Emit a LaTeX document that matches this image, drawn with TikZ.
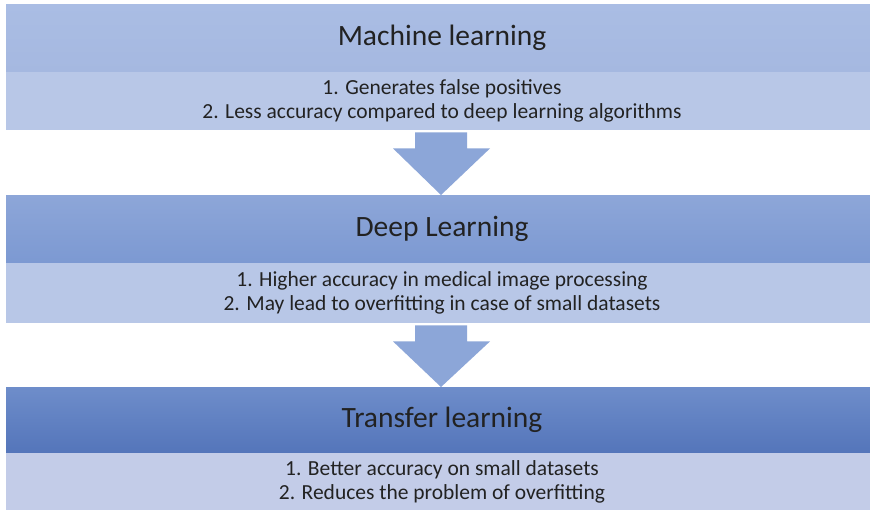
\documentclass[tikz,border=0pt]{standalone}
\usepackage{fontspec}
\setmainfont{Carlito}
\usetikzlibrary{calc}
\definecolor{headA}{HTML}{AABDE4}
\definecolor{headAb}{HTML}{A5B8E0}
\definecolor{headB}{HTML}{8DA6D8}
\definecolor{headBb}{HTML}{7C99D2}
\definecolor{headC}{HTML}{6E8DCA}
\definecolor{headCb}{HTML}{5475BA}
\definecolor{bodyA}{HTML}{B8C7E7}
\definecolor{bodyC}{HTML}{C3CCE8}
\definecolor{arrowfill}{HTML}{8CA6D8}
\definecolor{txt}{HTML}{222222}
\tikzset{
  band/.style={minimum width=872pt, inner sep=0pt, anchor=north, text=txt},
  head/.style={band, font=\fontsize{29.5}{34}\selectfont},
  body/.style={band, font=\fontsize{21.5}{24}\selectfont, align=center},
  flowarrow/.style={fill=arrowfill, draw=none}
}
\begin{document}
\begin{tikzpicture}[x=1pt,y=-1pt]
  \useasboundingbox (0,0) rectangle (870,512);
  \fill[white] (0,0) rectangle (870,512);

  % Machine learning
  \node[head, minimum height=68pt, top color=headA, bottom color=headAb] (h1) at (442,4) {Machine learning};
  \node[body, minimum height=58pt, fill=bodyA] (b1) at (442,72)
    {1. Generates false positives\\2. Less accuracy compared to deep learning algorithms};

  % Deep learning
  \node[head, minimum height=68pt, top color=headB, bottom color=headBb] (h2) at (442,195) {Deep Learning};
  \node[body, minimum height=60pt, fill=bodyA] (b2) at (442,263)
    {1. Higher accuracy in medical image processing\\2. May lead to overfitting in case of small datasets};

  % Transfer learning
  \node[head, minimum height=66pt, top color=headC, bottom color=headCb] (h3) at (442,387) {Transfer learning};
  \node[body, minimum height=57pt, fill=bodyC] (b3) at (442,453)
    {1. Better accuracy on small datasets\\2. Reduces the problem of overfitting};

  % Block arrows between the stages
  \fill[flowarrow]
    ($(b1.south)+(-27,2)$) -- ($(b1.south)+(25,2)$) -- ($(b1.south)+(25,18)$)
    -- ($(b1.south)+(48,18)$) -- ($(h2.north)+(-1,0)$) -- ($(b1.south)+(-49,18)$)
    -- ($(b1.south)+(-27,18)$) -- cycle;
  \fill[flowarrow]
    ($(b2.south)+(-27,2)$) -- ($(b2.south)+(25,2)$) -- ($(b2.south)+(25,18)$)
    -- ($(b2.south)+(48,18)$) -- ($(h3.north)+(-1,0)$) -- ($(b2.south)+(-49,18)$)
    -- ($(b2.south)+(-27,18)$) -- cycle;
\end{tikzpicture}
\end{document}
